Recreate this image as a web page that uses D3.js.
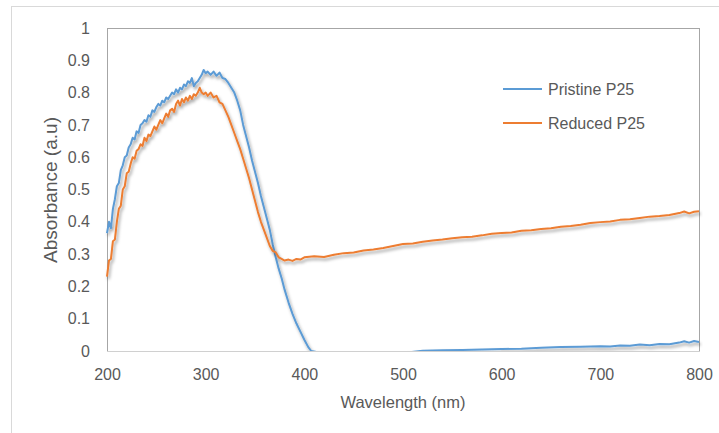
<!DOCTYPE html>
<html lang="en">
<head>
    <meta charset="UTF-8">
    <script src="https://d3js.org/d3.v7.min.js"></script>
    <style>
        body { margin: 0; background: #fff; }
        text { font-family: "Liberation Sans", Arial, sans-serif; fill: #595959; }
    </style>
</head>
<body>
    <svg id="chart" width="719" height="433"></svg>
    <script>
        // Pristine P25 (wavelength nm, absorbance)
        const pristineWl = [200, 202, 204, 206, 208, 210, 212, 214, 216, 218, 220, 222, 224,
            226, 228, 230, 232, 234, 236, 238, 240, 242, 244, 246, 248, 250, 252, 254, 256, 258, 260,
            262, 264, 266, 268, 270, 272, 274, 276, 278, 280, 282, 284, 286, 288, 290, 292, 294, 296, 298, 300,
            302, 305, 308, 311, 314, 317, 320, 323, 326, 329, 332, 335, 338, 341, 344,
            347, 350, 353, 356, 359, 362, 365, 368, 371, 374, 377, 380, 384, 388, 392, 396, 400, 404, 407,
            420, 450, 500, 520, 540, 560, 580, 600, 620, 640, 660, 680, 700, 710, 720, 730, 740, 750, 760, 770, 780, 785, 790, 795, 800];
        const pristineAbs = [0.365, 0.40, 0.38, 0.44, 0.47, 0.51, 0.52, 0.56, 0.575, 0.60, 0.605, 0.63, 0.64,
            0.66, 0.655, 0.68, 0.675, 0.70, 0.705, 0.715, 0.71, 0.73, 0.725, 0.745, 0.74, 0.755, 0.765, 0.76, 0.775, 0.77, 0.785,
            0.78, 0.79, 0.80, 0.795, 0.81, 0.80, 0.815, 0.81, 0.825, 0.82, 0.835, 0.83, 0.845, 0.82, 0.83, 0.835, 0.845, 0.855, 0.87, 0.86,
            0.865, 0.855, 0.865, 0.852, 0.862, 0.845, 0.842, 0.83, 0.815, 0.80, 0.775, 0.745, 0.70, 0.665, 0.63,
            0.59, 0.555, 0.52, 0.48, 0.445, 0.41, 0.375, 0.33, 0.29, 0.255, 0.225, 0.19, 0.15, 0.115, 0.085, 0.06, 0.035, 0.012, 0,
            -0.008, -0.01, -0.006, 0.001, 0.002, 0.003, 0.005, 0.006, 0.007, 0.01, 0.012, 0.013, 0.015, 0.014, 0.017, 0.016, 0.02, 0.018, 0.022, 0.021, 0.026, 0.03, 0.026, 0.031, 0.028];

        // Reduced P25
        const reducedWl = [200, 202, 204, 206, 208, 210, 212, 214, 216, 218, 220, 222, 224,
            226, 228, 230, 232, 234, 236, 238, 240, 242, 244, 246, 248, 250, 252, 254, 256, 258, 260,
            262, 264, 266, 268, 270, 272, 274, 276, 278, 280, 282, 284, 286, 288, 290, 292, 294, 296, 298, 300,
            302, 305, 308, 311, 314, 317, 320, 323, 326, 329, 332, 335, 338, 341, 344,
            347, 350, 353, 356, 359, 362, 365, 368, 371, 374, 377, 380, 384, 388, 392, 396, 400, 410, 420,
            430, 440, 450, 460, 470, 480, 490, 500, 510, 520, 530, 540, 550, 560, 570, 580, 590, 600, 610, 620,
            630, 640, 650, 660, 670, 680, 690, 700, 710, 720, 730, 740, 750, 760, 770, 780,
            785, 790, 795, 800];
        const reducedAbs = [0.23, 0.28, 0.285, 0.34, 0.345, 0.40, 0.44, 0.45, 0.50, 0.51, 0.55, 0.555, 0.58,
            0.60, 0.595, 0.62, 0.625, 0.64, 0.635, 0.66, 0.65, 0.67, 0.665, 0.68, 0.695, 0.685, 0.70, 0.715, 0.705, 0.72, 0.735,
            0.725, 0.745, 0.75, 0.74, 0.765, 0.775, 0.76, 0.78, 0.77, 0.785, 0.775, 0.79, 0.78, 0.795, 0.79, 0.80, 0.815, 0.80, 0.795, 0.80,
            0.79, 0.80, 0.785, 0.79, 0.77, 0.765, 0.745, 0.725, 0.70, 0.675, 0.65, 0.625, 0.595, 0.565, 0.535,
            0.50, 0.465, 0.43, 0.40, 0.375, 0.35, 0.325, 0.31, 0.305, 0.29, 0.285, 0.28, 0.283, 0.279, 0.285, 0.283, 0.29, 0.293, 0.291,
            0.298, 0.303, 0.305, 0.311, 0.314, 0.319, 0.325, 0.331, 0.333, 0.338, 0.342, 0.345, 0.349, 0.352, 0.354, 0.358, 0.363, 0.365, 0.367, 0.372,
            0.374, 0.378, 0.38, 0.385, 0.387, 0.391, 0.396, 0.399, 0.401, 0.406, 0.408, 0.412, 0.416, 0.418, 0.421, 0.427,
            0.432, 0.426, 0.431, 0.433];

        const xTicks = [200, 300, 400, 500, 600, 700, 800];
        const yTicks = [0, 0.1, 0.2, 0.3, 0.4, 0.5, 0.6, 0.7, 0.8, 0.9, 1];
        const seriesNames = ["Pristine P25", "Reduced P25"];
        const seriesColors = ["#5b9bd5", "#ed7d31"];

        const width = 719, height = 433;
        const plot = { left: 107, right: 699, top: 28, bottom: 351 };

        const svg = d3.select("#chart");

        // outer chart frame
        svg.append("rect")
            .attr("x", 11.5).attr("y", 6.5)
            .attr("width", 740).attr("height", 450)
            .attr("fill", "none").attr("stroke", "#d9d9d9");

        const defs = svg.append("defs");
        const f = defs.append("filter").attr("id", "shadow")
            .attr("x", "-5%").attr("y", "-5%").attr("width", "110%").attr("height", "120%");
        f.append("feDropShadow")
            .attr("dx", 1.5).attr("dy", 2.5).attr("stdDeviation", 1.8)
            .attr("flood-color", "#000").attr("flood-opacity", 0.38);
        // only trims the bit of the blue curve that dips under zero
        defs.append("clipPath").attr("id", "clip")
            .append("rect")
            .attr("x", plot.left - 4).attr("y", plot.top - 5)
            .attr("width", plot.right - plot.left + 8).attr("height", plot.bottom - plot.top + 6);

        const x = d3.scaleLinear().domain([200, 800]).range([plot.left, plot.right]);
        const y = d3.scaleLinear().domain([0, 1]).range([plot.bottom, plot.top]);

        // plot area border
        svg.append("rect")
            .attr("x", plot.left + 0.5).attr("y", plot.top + 0.5)
            .attr("width", plot.right - plot.left).attr("height", plot.bottom - plot.top)
            .attr("fill", "none").attr("stroke", "#a6a6a6");

        // y tick labels
        const yAxis = svg.append("g")
            .attr("transform", `translate(${plot.left - 17},0)`)
            .call(d3.axisLeft(y).tickValues(yTicks).tickSize(0).tickPadding(0)
                .tickFormat(d => d3.format("")(+d.toFixed(1))));
        yAxis.select(".domain").remove();
        yAxis.selectAll("text").style("font-size", "16px").attr("fill", "#595959")
            .style("font-family", "Liberation Sans, Arial, sans-serif");

        // x tick labels
        const xAxis = svg.append("g")
            .attr("transform", `translate(0,${plot.bottom})`)
            .call(d3.axisBottom(x).tickValues(xTicks).tickSize(0).tickPadding(18));
        xAxis.select(".domain").remove();
        xAxis.selectAll("text").style("font-size", "16px").attr("fill", "#595959")
            .style("font-family", "Liberation Sans, Arial, sans-serif");

        svg.append("text")
            .attr("x", 403).attr("y", 408)
            .attr("text-anchor", "middle")
            .style("font-size", "16.5px")
            .text("Wavelength (nm)");

        svg.append("text")
            .attr("transform", "translate(57,190) rotate(-90)")
            .attr("text-anchor", "middle")
            .attr("textLength", 146).attr("lengthAdjust", "spacingAndGlyphs")
            .style("font-size", "18px")
            .text("Absorbance (a.u)");

        const line = d3.line().x(d => x(d[0])).y(d => y(d[1]));
        const series = [
            d3.zip(pristineWl, pristineAbs),
            d3.zip(reducedWl, reducedAbs)
        ];

        svg.append("g").attr("clip-path", "url(#clip)")
            .selectAll(".series")
            .data(series)
            .enter().append("path")
            .attr("class", "series")
            .attr("d", line)
            .attr("fill", "none")
            .attr("stroke", (d, i) => seriesColors[i])
            .attr("stroke-width", 2)
            .attr("stroke-linejoin", "round")
            .attr("filter", "url(#shadow)");

        // bottom axis line
        svg.append("line")
            .attr("x1", plot.left).attr("x2", plot.right + 1)
            .attr("y1", plot.bottom + 0.5).attr("y2", plot.bottom + 0.5)
            .attr("stroke", "#d0d0d0");

        // legend
        const legend = svg.append("g");
        seriesNames.forEach((name, i) => {
            const ly = 89 + i * 34;
            legend.append("line")
                .attr("x1", 503).attr("x2", 542)
                .attr("y1", ly).attr("y2", ly)
                .attr("stroke", seriesColors[i]).attr("stroke-width", 2);
            legend.append("text")
                .attr("x", 548).attr("y", ly + 6)
                .style("font-size", "16px")
                .text(name);
        });
    </script>
</body>
</html>
